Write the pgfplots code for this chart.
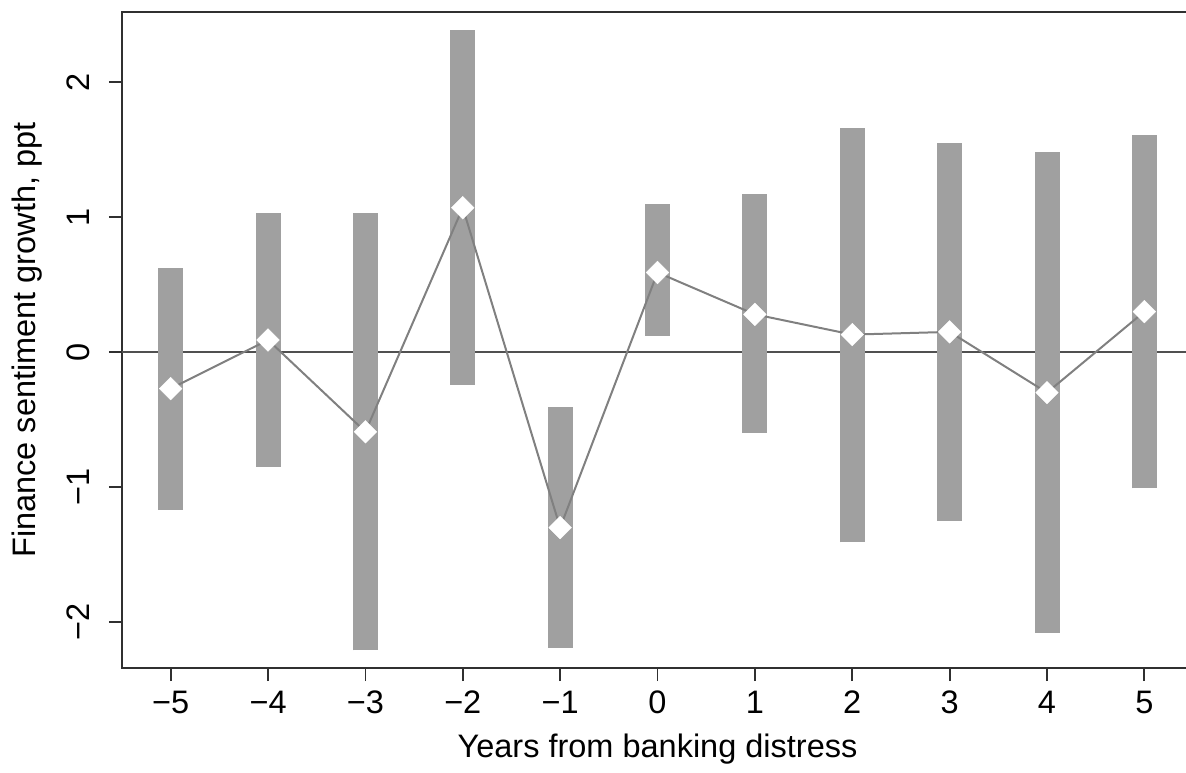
\documentclass[border=0pt]{standalone}
\usepackage{pgfplots}
\pgfplotsset{compat=1.18}
\usepackage{fontspec}
\setmainfont{Liberation Sans}
\definecolor{bargray}{HTML}{A0A0A0}
\definecolor{linegray}{HTML}{808080}
\definecolor{zerogray}{HTML}{505050}
\definecolor{axisgray}{HTML}{303030}
\newcommand{\chartfont}{\fontsize{32.5bp}{39bp}\selectfont}
\begin{document}
\chartfont
\begin{tikzpicture}
\begin{axis}[
  at={(0,0)}, anchor=south west,
  scale only axis, width=1071bp, height=656bp,
  xmin=-5.5, xmax=5.5, ymin=-2.34, ymax=2.52,
  axis line style={axisgray, line width=1.8bp},
  tick align=outside, major tick length=13bp,
  tick style={axisgray, line width=1.8bp},
  xtick pos=bottom, ytick pos=left,
  xtick={-5,-4,-3,-2,-1,0,1,2,3,4,5},
  xticklabels={−5,−4,−3,−2,−1,0,1,2,3,4,5},
  ytick={-2,-1,0,1,2},
  yticklabels={−2,−1,0,1,2},
  xticklabel style={font=\chartfont, anchor=base, yshift=-32bp},
  yticklabel style={font=\chartfont, rotate=90, anchor=base, yshift=19bp},
  xlabel={Years from banking distress},
  ylabel={Finance sentiment growth, ppt},
  xlabel style={font=\chartfont, at={(axis description cs:0.5,0)}, anchor=base, yshift=-89bp},
  ylabel style={font=\chartfont, at={(axis description cs:0,0.5)}, anchor=base, yshift=86bp},
  clip=false,
]
% zero line
\addplot[zerogray, line width=2.2bp] coordinates {(-5.5,0) (5.5,0)};
% confidence bars
\addplot[bargray, line width=25bp, unbounded coords=jump] coordinates {
(-5,-1.17) (-5,0.62) (-5,nan)
(-4,-0.85) (-4,1.03) (-4,nan)
(-3,-2.21) (-3,1.03) (-3,nan)
(-2,-0.24) (-2,2.39) (-2,nan)
(-1,-2.19) (-1,-0.41) (-1,nan)
(0,0.12) (0,1.10) (0,nan)
(1,-0.60) (1,1.17) (1,nan)
(2,-1.41) (2,1.66) (2,nan)
(3,-1.25) (3,1.55) (3,nan)
(4,-2.08) (4,1.48) (4,nan)
(5,-1.01) (5,1.61)
};
% markers
\addplot[only marks, mark=square*, mark size=8bp, mark options={fill=white, draw=white, rotate=45}] coordinates {
(-5,-0.27) (-4,0.09) (-3,-0.59) (-2,1.07) (-1,-1.30) (0,0.59) (1,0.28) (2,0.13) (3,0.15) (4,-0.30) (5,0.30)
};
% connecting line
\addplot[linegray, line width=2bp, mark=none] coordinates {
(-5,-0.27) (-4,0.09) (-3,-0.59) (-2,1.07) (-1,-1.30) (0,0.59) (1,0.28) (2,0.13) (3,0.15) (4,-0.30) (5,0.30)
};
\end{axis}
\pgfresetboundingbox
\path[use as bounding box] (-122bp,-105bp) rectangle (1064bp,668bp);
\end{tikzpicture}
\end{document}
